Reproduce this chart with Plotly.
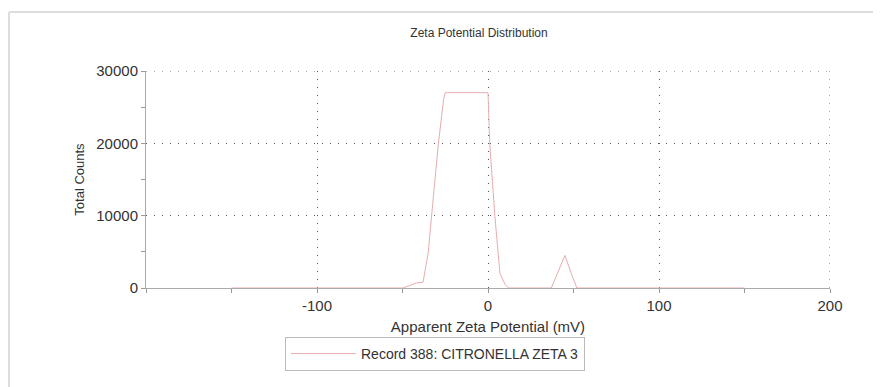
import plotly.graph_objects as go

# Data
zeta_mv = [-150, -50, -46, -42, -38, -35, -32, -29, -26, -25, 0, 1, 4, 7, 10, 12,
           37, 41, 45, 49, 52, 150]
total_counts = [0, 0, 300, 700, 800, 4800, 12500, 20000, 26000, 27000, 27000, 20000,
                10000, 2000, 500, 0, 0, 2200, 4500, 1800, 0, 0]
series_name = "Record 388: CITRONELLA ZETA 3"
x_tickvals = [-100, 0, 100, 200]
x_ticktext = ["-100", "0", "100", "200"]
y_tickvals = [0, 10000, 20000, 30000]
y_ticktext = ["0", "10000", "20000", "30000"]
x_range = [-200, 200]
y_range = [0, 30000]

FONT = "Liberation Sans, Arial, Helvetica, sans-serif"
TXT = "#333333"
GRID = "#555555"
DOT = "1px,7px"

# page body has an 8px margin; the figure is sized to fill the rest of the window
OFF = 8
W, H = 881 - OFF, 387 - OFF
# plot-area edges in window pixels
SL, SR, ST, SB = 146, 830, 71, 288
L, R, T, B = SL - OFF, W - (SR - OFF), ST - OFF, H - (SB - OFF)
pw, ph = W - L - R, H - T - B


def px(xs):
    return (xs - OFF - L) / pw


def py(ys):
    return (H - B - (ys - OFF)) / ph


fig = go.Figure()
fig.add_trace(go.Scatter(
    x=zeta_mv, y=total_counts, mode="lines", name=series_name,
    line=dict(color="#e6adad", width=1), showlegend=True,
))

fig.update_layout(
    width=W, height=H,
    margin=dict(l=L, r=R, t=T, b=B),
    paper_bgcolor="white", plot_bgcolor="white",
    font=dict(family=FONT, color=TXT, size=14),
    title=dict(text="Zeta Potential Distribution", x=(479 - OFF) / W, xanchor="center",
               y=1 - (33 - OFF) / H, yanchor="middle", yref="container",
               font=dict(size=12, color=TXT)),
    legend=dict(x=px(285), y=py(337), xanchor="left", yanchor="top",
                bordercolor="#bbbbbb", borderwidth=1, bgcolor="white",
                font=dict(size=14, color=TXT), itemwidth=65,
                tracegroupgap=0),
    xaxis=dict(
        range=x_range, tickvals=x_tickvals, ticktext=x_ticktext,
        ticks="outside", ticklen=4,
        tickcolor="#999999", showline=True, linecolor="#aaaaaa", linewidth=1,
        showgrid=True, gridcolor=GRID, gridwidth=1, griddash=DOT,
        zeroline=False, tickfont=dict(size=15, color=TXT),
        minor=dict(dtick=50, tick0=0, ticks="outside", ticklen=4,
                   tickcolor="#999999", showgrid=False),
        title=dict(text="Apparent Zeta Potential (mV)", standoff=8,
                   font=dict(size=15, color=TXT)),
    ),
    yaxis=dict(
        range=y_range, tickvals=y_tickvals, ticktext=y_ticktext,
        ticks="outside", ticklen=4,
        tickcolor="#999999", showline=True, linecolor="#aaaaaa", linewidth=1,
        showgrid=True, gridcolor=GRID, gridwidth=1, griddash=DOT,
        zeroline=False, tickfont=dict(size=15, color=TXT),
        minor=dict(dtick=5000, tick0=0, ticks="outside", ticklen=4,
                   tickcolor="#999999", showgrid=False),
        title=dict(text="Total Counts", standoff=8,
                   font=dict(size=13, color=TXT)),
    ),
    shapes=[
        # dotted top and right edges (grid at 30000 and 200)
        dict(type="line", xref="x", yref="y", x0=x_range[0], x1=x_range[1],
             y0=y_range[1], y1=y_range[1], line=dict(color=GRID, width=1, dash=DOT)),
        dict(type="line", xref="x", yref="y", x0=x_range[1], x1=x_range[1],
             y0=y_range[0], y1=y_range[1], line=dict(color=GRID, width=1, dash=DOT)),
        # outer frame
        dict(type="line", xref="paper", yref="paper", x0=px(9), x1=px(900),
             y0=py(12), y1=py(12), line=dict(color="#dddddd", width=2)),
        dict(type="line", xref="paper", yref="paper", x0=px(9), x1=px(9),
             y0=py(12), y1=py(400), line=dict(color="#dddddd", width=2)),
    ],
)

fig.write_html("out.html")
